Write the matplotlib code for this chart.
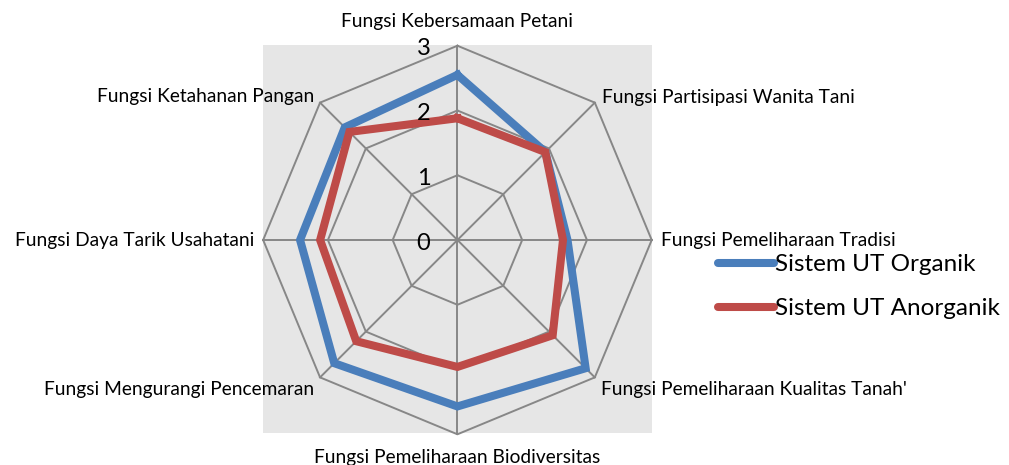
import numpy as np
import matplotlib
matplotlib.use('Agg')
import matplotlib.pyplot as plt
from matplotlib.patches import Rectangle

labels = ['Fungsi Kebersamaan Petani', 'Fungsi Partisipasi Wanita Tani',
          'Fungsi Pemeliharaan Tradisi', "Fungsi Pemeliharaan Kualitas Tanah'",
          'Fungsi Pemeliharaan Biodiversitas', 'Fungsi Mengurangi Pencemaran',
          'Fungsi Daya Tarik Usahatani', 'Fungsi Ketahanan Pangan']
organik = [2.55, 1.92, 1.7, 2.8, 2.57, 2.69, 2.43, 2.46]
anorganik = [1.88, 1.92, 1.63, 2.08, 1.96, 2.21, 2.12, 2.36]
levels = [0, 1, 2, 3]

plt.rcParams['font.family'] = ['Lato', 'DejaVu Sans']
blue = '#4a7ebb'
red = '#be4b48'
gridc = '#878787'

fig = plt.figure(figsize=(10.09, 4.65), dpi=100)
# grey plot area
fig.patches.append(Rectangle((0.2607, 0.0688), 0.3855, 0.8344, transform=fig.transFigure,
                             facecolor='#e6e6e6', edgecolor='none', zorder=-5))

ax = fig.add_axes([0.2608, 0.066, 0.3851, 0.8357], projection='polar')
ax.set_zorder(2)
ax.set_facecolor('none')
ax.set_theta_offset(np.pi / 2)
ax.set_theta_direction(-1)
ax.set_ylim(0, 3)
ax.spines['polar'].set_visible(False)
ax.grid(False)
ax.set_xticks([])
ax.set_yticks([])

n = len(labels)
ang = np.linspace(0, 2 * np.pi, n, endpoint=False)
closed = np.append(ang, ang[0])

# octagon grid + spokes
for lv in levels[1:]:
    ax.plot(closed, [lv] * (n + 1), color=gridc, lw=1.4, zorder=1, clip_on=False)
for a in ang:
    ax.plot([a, a], [0, 3], color=gridc, lw=1.4, zorder=1, clip_on=False)

for lv in levels:
    ax.annotate(str(lv), xy=(0, lv), xytext=(-34, -3), textcoords='offset pixels',
                ha='center', va='center', fontsize=17, zorder=3)

ax.plot(closed, organik + organik[:1], color=blue, lw=5.8, zorder=2,
        solid_joinstyle='miter', label='Sistem UT Organik')
ax.plot(closed, anorganik + anorganik[:1], color=red, lw=5.8, zorder=2,
        solid_joinstyle='miter', label='Sistem UT Anorganik')

offs = [(0, 24, 'center'), (7, 5, 'left'), (9, 0, 'left'), (6, -12, 'left'),
        (0, -23, 'center'), (-6, -12, 'right'), (-9, 0, 'right'), (-6, 6, 'right')]
for a, lab, (dx, dy, ha) in zip(ang, labels, offs):
    ax.annotate(lab, xy=(a, 3), xytext=(dx, dy), textcoords='offset pixels',
                ha=ha, va='center', fontsize=13.8, zorder=3)

leg = fig.legend(loc='upper left', bbox_to_anchor=(0.69, 0.50), frameon=False,
                 fontsize=17.5, handlelength=2.3, handletextpad=0.05,
                 labelspacing=0.95)
for h in leg.get_lines():
    h.set_solid_capstyle('round')

fig.savefig('out.png', dpi=100)
